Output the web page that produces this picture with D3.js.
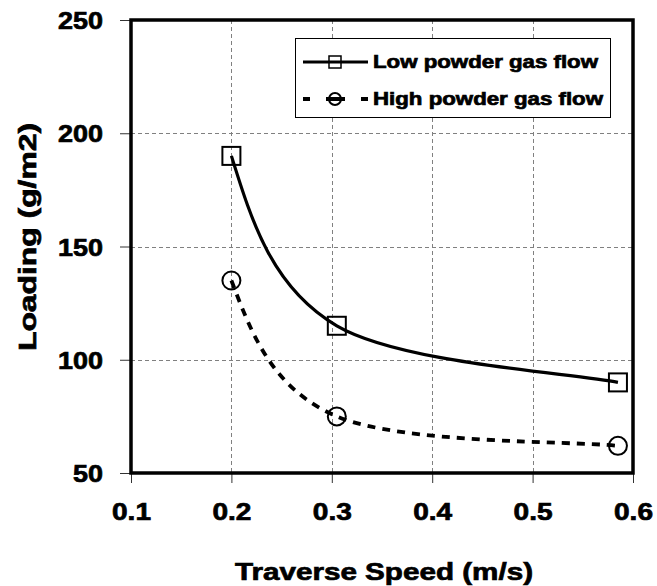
<!DOCTYPE html>
<html>
<head>
<meta charset="utf-8">
<script src="https://cdn.jsdelivr.net/npm/d3@7"></script>
<style>
  html, body { margin: 0; padding: 0; background: #fff; }
  svg { display: block; }
  text { font-family: "Liberation Sans", Arial, Helvetica, sans-serif; font-weight: bold; fill: #000; stroke: #000; stroke-width: 0.7px; }
</style>
</head>
<body>
<svg id="chart" width="657" height="586"></svg>
<script>
// Traverse speed (m/s) for each measurement
const speeds = [0.2, 0.305, 0.585];
// Coating loading (g/m2) per series
const lowFlow = [190, 115, 90];
const highFlow = [135, 75, 62];
const seriesNames = ["Low powder gas flow", "High powder gas flow"];
const xTicks = [0.1, 0.2, 0.3, 0.4, 0.5, 0.6];
const yTicks = [50, 100, 150, 200, 250];

const svg = d3.select("#chart");
const plot = { left: 131, right: 633, top: 20, bottom: 473 };

const x = d3.scaleLinear().domain([0.1, 0.6]).range([plot.left, plot.right]);
const y = d3.scaleLinear().domain([50, 250]).range([plot.bottom, plot.top]);

// Dashed grid
const grid = svg.append("g").attr("stroke", "#808080").attr("stroke-width", 1).attr("stroke-dasharray", "4,3");
grid.selectAll("line.v").data(xTicks.slice(1, -1)).join("line")
  .attr("x1", d => Math.round(x(d)) + 0.5).attr("x2", d => Math.round(x(d)) + 0.5)
  .attr("y1", plot.top).attr("y2", plot.bottom);
grid.selectAll("line.h").data(yTicks.slice(1, -1)).join("line")
  .attr("y1", d => Math.round(y(d)) + 0.5).attr("y2", d => Math.round(y(d)) + 0.5)
  .attr("x1", plot.left).attr("x2", plot.right);

// Axes with outside ticks
const xAxis = svg.append("g").attr("transform", `translate(0,${plot.bottom})`)
  .call(d3.axisBottom(x).tickValues(xTicks).tickFormat(d3.format(".1f")).tickSize(10).tickPadding(20));
const yAxis = svg.append("g").attr("transform", `translate(${plot.left},0)`)
  .call(d3.axisLeft(y).tickValues(yTicks).tickSize(11).tickPadding(17));
[xAxis, yAxis].forEach(a => {
  a.select(".domain").remove();
  a.selectAll(".tick line").attr("stroke", "#333").attr("stroke-width", 1);
  a.selectAll(".tick text").style("font-size", "24px").attr("fill", "#000");
});
xAxis.selectAll(".tick text").attr("dy", "0.71em").attr("textLength", 39).attr("lengthAdjust", "spacingAndGlyphs");
yAxis.selectAll(".tick text").attr("dy", "0.36em")
  .attr("textLength", d => String(d).length * 15).attr("lengthAdjust", "spacingAndGlyphs");

// Frame around plot area
svg.append("rect")
  .attr("x", plot.left).attr("y", plot.top)
  .attr("width", plot.right - plot.left).attr("height", plot.bottom - plot.top)
  .attr("fill", "none").attr("stroke", "#000").attr("stroke-width", 3.5);

// Smoothed series path: cubic Bezier pieces with Catmull-Rom tangents at
// interior points, and a steeper lead-in on the first piece.
function smoothPath(values) {
  const P = speeds.map((s, i) => [x(s), y(values[i])]);
  const n = P.length;
  const tan = i => [(P[i + 1][0] - P[i - 1][0]) / 6, (P[i + 1][1] - P[i - 1][1]) / 6];
  const p = d3.path();
  p.moveTo(P[0][0], P[0][1]);
  for (let i = 0; i < n - 1; i++) {
    let c1, c2;
    if (i + 1 < n - 1) {
      const t = tan(i + 1);
      c2 = [P[i + 1][0] - t[0], P[i + 1][1] - t[1]];
    } else {
      c2 = [P[i + 1][0] - (P[i + 1][0] - P[i][0]) / 6, P[i + 1][1] - (P[i + 1][1] - P[i][1]) / 6];
    }
    if (i > 0) {
      const t = tan(i);
      c1 = [P[i][0] + t[0], P[i][1] + t[1]];
    } else {
      c1 = [P[0][0] + (c2[0] - P[0][0]) / 2, P[0][1] + (c2[1] - P[0][1]) / 2];
    }
    p.bezierCurveTo(c1[0], c1[1], c2[0], c2[1], P[i + 1][0], P[i + 1][1]);
  }
  return p.toString();
}

const lowPts = speeds.map((s, i) => [s, lowFlow[i]]);
const highPts = speeds.map((s, i) => [s, highFlow[i]]);

svg.append("path").attr("d", smoothPath(lowFlow))
  .attr("fill", "none").attr("stroke", "#000").attr("stroke-width", 3.2);
svg.append("path").attr("d", smoothPath(highFlow))
  .attr("fill", "none").attr("stroke", "#000").attr("stroke-width", 3.8).attr("stroke-dasharray", "8,7");

// Markers (hollow)
svg.selectAll("rect.sq").data(lowPts).join("rect")
  .attr("x", d => x(d[0]) - 9).attr("y", d => y(d[1]) - 9)
  .attr("width", 18).attr("height", 18)
  .attr("fill", "none").attr("stroke", "#000").attr("stroke-width", 2);
svg.selectAll("circle.ci").data(highPts).join("circle")
  .attr("cx", d => x(d[0])).attr("cy", d => y(d[1])).attr("r", 9)
  .attr("fill", "none").attr("stroke", "#000").attr("stroke-width", 2);

// Legend
const lg = svg.append("g");
lg.append("rect").attr("x", 295.5).attr("y", 38.5).attr("width", 315).attr("height", 79)
  .attr("fill", "#fff").attr("stroke", "#000").attr("stroke-width", 1);
const rows = [62, 99];
lg.append("line").attr("x1", 303).attr("x2", 368).attr("y1", rows[0]).attr("y2", rows[0])
  .attr("stroke", "#000").attr("stroke-width", 3.2);
lg.append("rect").attr("x", 329).attr("y", rows[0] - 6).attr("width", 12).attr("height", 12)
  .attr("fill", "none").attr("stroke", "#000").attr("stroke-width", 1.5);
lg.append("line").attr("x1", 303).attr("x2", 368).attr("y1", rows[1]).attr("y2", rows[1])
  .attr("stroke", "#000").attr("stroke-width", 3.8).attr("stroke-dasharray", "7,16,19,16");
lg.append("circle").attr("cx", 335).attr("cy", rows[1]).attr("r", 6)
  .attr("fill", "none").attr("stroke", "#000").attr("stroke-width", 2);
lg.selectAll("text").data(seriesNames).join("text")
  .attr("x", 373).attr("y", (d, i) => rows[i]).attr("dy", "0.36em")
  .style("font-size", "18px")
  .attr("textLength", (d, i) => i === 0 ? 225 : 230).attr("lengthAdjust", "spacingAndGlyphs")
  .text(d => d);

// Axis titles
svg.append("text").attr("x", 384).attr("y", 580).attr("text-anchor", "middle")
  .style("font-size", "24px").attr("textLength", 298).attr("lengthAdjust", "spacingAndGlyphs")
  .text("Traverse Speed (m/s)");
svg.append("text").attr("transform", "translate(36,237) rotate(-90)").attr("text-anchor", "middle")
  .style("font-size", "24px").attr("textLength", 228).attr("lengthAdjust", "spacingAndGlyphs")
  .text("Loading (g/m2)");
</script>
</body>
</html>
